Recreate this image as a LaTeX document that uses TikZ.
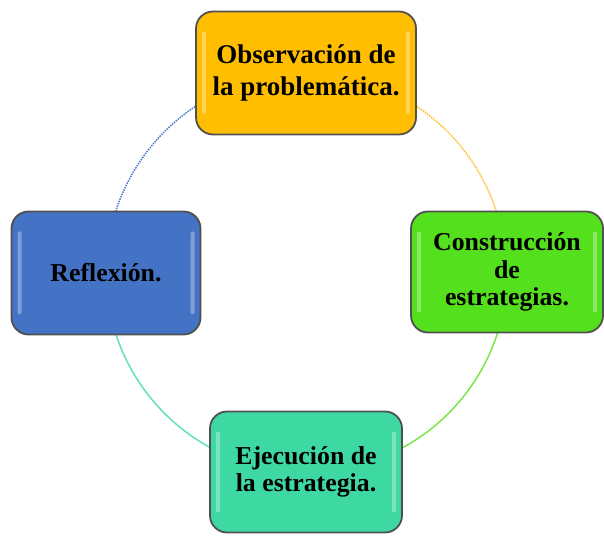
\documentclass[tikz,border=0pt]{standalone}
\usepackage{fontspec}
\setmainfont{Liberation Serif}
\usetikzlibrary{backgrounds}
\definecolor{cyellow}{HTML}{FFBE00}
\definecolor{cgreen}{HTML}{55E01E}
\definecolor{cteal}{HTML}{3ED9A2}
\definecolor{cblue}{HTML}{4472C4}
\definecolor{cborder}{HTML}{505050}
\definecolor{aorange}{HTML}{FFBE2A}
\definecolor{agreen}{HTML}{7BE64A}
\definecolor{ateal}{HTML}{62E2B6}
\definecolor{ablue}{HTML}{4F7ECC}
\tikzset{
  cyclebox/.style={draw=cborder, line width=1.8pt, rounded corners=17pt,
    inner sep=0pt, align=center, font=\bfseries\fontsize{25.8}{27.5}\selectfont,
    path picture={
      \fill[white,opacity=.32,rounded corners=1.5pt]
        ([xshift=6pt,yshift=-20pt]path picture bounding box.north west) rectangle
        ([xshift=10pt,yshift=20pt]path picture bounding box.south west);
      \fill[white,opacity=.32,rounded corners=1.5pt]
        ([xshift=-6pt,yshift=-20pt]path picture bounding box.north east) rectangle
        ([xshift=-10pt,yshift=20pt]path picture bounding box.south east);
    }},
  cyclearc/.style={line width=1.5pt}
}
\begin{document}
\begin{tikzpicture}[x=1pt,y=1pt]
\useasboundingbox (0,0) rectangle (604,540);
\node[cyclebox, fill=cyellow, minimum width=220pt, minimum height=123pt,
  font=\bfseries\fontsize{27}{32}\selectfont] (obs) at (306,467)
  {Observación de\\la problemática.};
\node[cyclebox, fill=cgreen, minimum width=192pt, minimum height=121pt] (con) at (507,268)
  {Construcción\\de\\estrategias.};
\node[cyclebox, fill=cteal, minimum width=192pt, minimum height=121pt] (eje) at (306,68)
  {Ejecución de\\la estrategia.};
\node[cyclebox, fill=cblue, minimum width=189pt, minimum height=123pt] (ref) at (106,267)
  {Reflexión.};
\begin{scope}[on background layer]
  \draw[cyclearc, aorange, densely dotted] (obs.center) arc[start angle=90, end angle=0, radius=200pt];
  \draw[cyclearc, agreen] (con.center) arc[start angle=0, end angle=-90, radius=200pt];
  \draw[cyclearc, ateal] (eje.center) arc[start angle=-90, end angle=-180, radius=200pt];
  \draw[cyclearc, ablue, densely dotted] (ref.center) arc[start angle=180, end angle=90, radius=200pt];
\end{scope}
\end{tikzpicture}
\end{document}
